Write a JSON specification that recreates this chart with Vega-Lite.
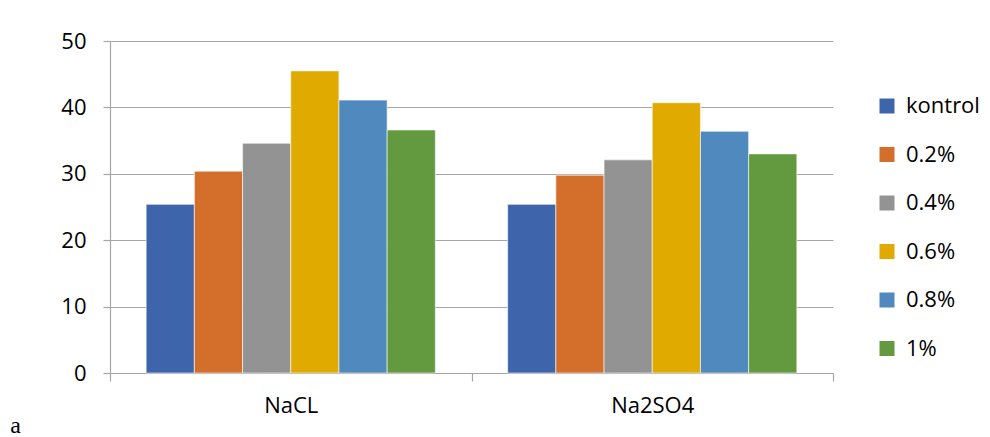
{
  "$schema": "https://vega.github.io/schema/vega-lite/v6.json",
  "width": 723,
  "height": 332,
  "autosize": {"type": "none"},
  "padding": {"left": 110, "top": 41, "right": 157, "bottom": 64},
  "background": "white",
  "config": {
    "font": "Open Sans",
    "view": {"stroke": null}
  },
  "title": {
    "text": "a",
    "orient": "left",
    "anchor": "start",
    "frame": "group",
    "angle": 0,
    "baseline": "alphabetic",
    "align": "left",
    "offset": 40,
    "dy": 60,
    "fontSize": 24,
    "fontWeight": "normal",
    "font": "Liberation Serif",
    "color": "black"
  },
  "data": {
    "values": [
      {"salt": "NaCL", "conc": "kontrol", "value": 25.4},
      {"salt": "NaCL", "conc": "0.2%", "value": 30.4},
      {"salt": "NaCL", "conc": "0.4%", "value": 34.6},
      {"salt": "NaCL", "conc": "0.6%", "value": 45.5},
      {"salt": "NaCL", "conc": "0.8%", "value": 41.1},
      {"salt": "NaCL", "conc": "1%", "value": 36.6},
      {"salt": "Na2SO4", "conc": "kontrol", "value": 25.4},
      {"salt": "Na2SO4", "conc": "0.2%", "value": 29.8},
      {"salt": "Na2SO4", "conc": "0.4%", "value": 32.1},
      {"salt": "Na2SO4", "conc": "0.6%", "value": 40.7},
      {"salt": "Na2SO4", "conc": "0.8%", "value": 36.4},
      {"salt": "Na2SO4", "conc": "1%", "value": 33.0}
    ]
  },
  "mark": {"type": "bar", "stroke": "white", "strokeWidth": 0.6},
  "encoding": {
    "x": {
      "field": "salt",
      "type": "nominal",
      "sort": ["NaCL", "Na2SO4"],
      "scale": {"paddingInner": 0, "paddingOuter": 0},
      "axis": {
        "title": null,
        "labelAngle": 0,
        "labelFontSize": 22,
        "labelColor": "black",
        "labelPadding": 14,
        "tickBand": "extent",
        "tickSize": 8,
        "tickColor": "#a6a6a6",
        "domainColor": "#a6a6a6",
        "domainWidth": 1.2,
        "tickWidth": 1.2
      }
    },
    "xOffset": {
      "field": "conc",
      "type": "nominal",
      "sort": ["kontrol", "0.2%", "0.4%", "0.6%", "0.8%", "1%"],
      "scale": {"paddingInner": 0, "paddingOuter": 0.75}
    },
    "y": {
      "field": "value",
      "type": "quantitative",
      "scale": {"domain": [0, 50], "nice": false},
      "axis": {
        "title": null,
        "values": [0, 10, 20, 30, 40, 50],
        "domain": true,
        "labelFontSize": 22,
        "labelColor": "black",
        "labelPadding": 17,
        "tickSize": 7,
        "tickColor": "#a6a6a6",
        "tickWidth": 1.2,
        "gridColor": "#a6a6a6",
        "gridWidth": 1.2,
        "domainColor": "#a6a6a6",
        "domainWidth": 1.2
      }
    },
    "color": {
      "field": "conc",
      "type": "nominal",
      "sort": ["kontrol", "0.2%", "0.4%", "0.6%", "0.8%", "1%"],
      "scale": {
        "domain": ["kontrol", "0.2%", "0.4%", "0.6%", "0.8%", "1%"],
        "range": ["#3e64ac", "#d46e2b", "#939393", "#e0aa00", "#4f89bd", "#639a3f"]
      },
      "legend": {
        "title": null,
        "orient": "none",
        "legendX": 766,
        "legendY": 54,
        "symbolType": "square",
        "symbolSize": 225,
        "symbolStrokeWidth": 0,
        "labelFontSize": 22,
        "labelColor": "black",
        "labelOffset": 8,
        "rowPadding": 26.5
      }
    }
  }
}
